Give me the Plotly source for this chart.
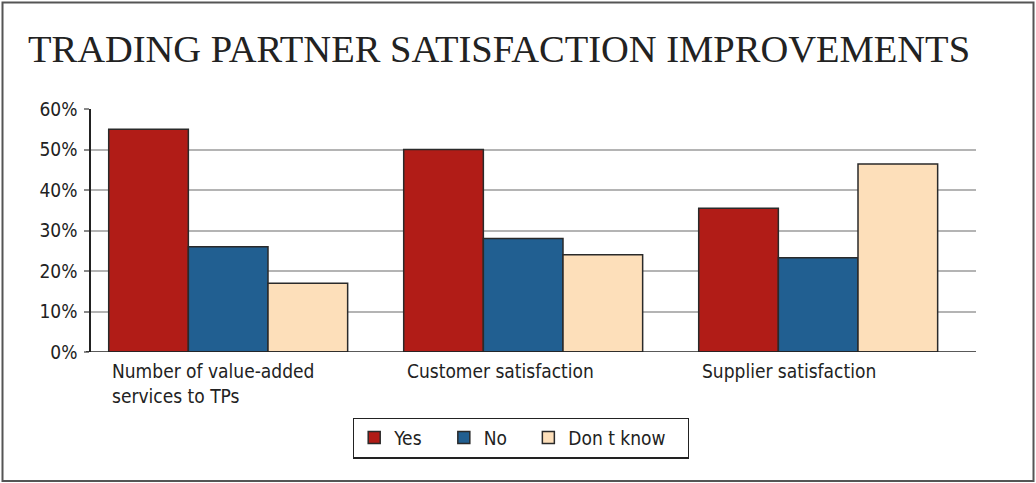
import plotly.graph_objects as go

categories = ["Number of value-added<br>services to TPs", "Customer satisfaction", "Supplier satisfaction"]
series_names = ["Yes", "No", "Don t know"]
yes_vals = [55, 50, 35.5]
no_vals = [26, 28, 23.3]
dk_vals = [17, 24, 46.4]
colors = ["#B11C17", "#215F91", "#FDDFBA"]
y_ticks = [0, 10, 20, 30, 40, 50, 60]
y_tick_labels = ["0%", "10%", "20%", "30%", "40%", "50%", "60%"]

W, H = 1036, 483
L, R, T, B = 91, 60, 109, 131
pw, ph = W - L - R, H - T - B

label_font = "Liberation Sans Narrow, DejaVu Sans Condensed, Roboto Condensed, Arial Narrow, sans-serif"
pad = "\u00a0\u00a0\u00a0"

fig = go.Figure()
xs = list(range(len(categories)))
for name, vals, col in zip(series_names, [yes_vals, no_vals, dk_vals], colors):
    fig.add_trace(go.Bar(
        x=xs, y=vals, name=name + pad,
        marker=dict(color=col, line=dict(color="#2a2a2a", width=1.5)),
    ))

# category labels, left aligned under each group
annotations = []
for i, c in enumerate(categories):
    annotations.append(dict(
        x=i - 0.40, y=0, xref="x", yref="y", text=c, showarrow=False,
        xanchor="left", yanchor="top", align="left", yshift=-6,
        font=dict(family=label_font, size=19, color="#222"),
    ))

fig.update_layout(
    width=W, height=H,
    margin=dict(l=L, r=R, t=T, b=B),
    paper_bgcolor="white", plot_bgcolor="white",
    barmode="group", bargap=0.19, bargroupgap=0,
    title=dict(
        text="TRADING PARTNER SATISFACTION IMPROVEMENTS",
        x=499 / W, xanchor="center", y=1 - 49 / H, yanchor="middle",
        font=dict(family="Liberation Serif, DejaVu Serif, serif", size=38.5, color="#222"),
    ),
    xaxis=dict(
        range=[-0.465, 2.535], showticklabels=False, showgrid=False,
        zeroline=False, showline=False, ticks="",
    ),
    yaxis=dict(
        range=[0, 60], tickvals=y_ticks, ticktext=y_tick_labels,
        showgrid=True, gridcolor="#b4b4b4", gridwidth=1.5,
        zeroline=False, showline=True, linecolor="#222", linewidth=1.5,
        ticks="outside", ticklen=5, tickcolor="#888", tickwidth=1.5,
        tickfont=dict(family=label_font, size=19, color="#222"),
        ticklabelstandoff=3,
    ),
    showlegend=True,
    legend=dict(
        orientation="h", x=521 / W, xref="container", xanchor="center",
        y=1 - 438 / H, yref="container", yanchor="middle",
        bordercolor="#222", borderwidth=1.2, bgcolor="white",
        font=dict(family=label_font, size=19, color="#222"),
        itemwidth=30, traceorder="normal",
    ),
    annotations=annotations,
)

# baseline (x-axis line)
fig.add_shape(type="line", xref="paper", yref="y", x0=-5 / pw, x1=1, y0=0, y1=0,
              line=dict(color="#222", width=1.5), layer="above")
# outer frame
fig.add_shape(type="rect", xref="paper", yref="paper",
              x0=(2.5 - L) / pw, x1=(1033.5 - L) / pw,
              y0=-(H - 2 - (H - B)) / ph, y1=(H - B - 2.5) / ph,
              line=dict(color="#555", width=2), fillcolor="rgba(0,0,0,0)", layer="below")

fig.write_html(
    "out.html",
    config={"displayModeBar": False},
    post_script="document.body.style.margin='0px';document.body.style.overflow='hidden';",
)
